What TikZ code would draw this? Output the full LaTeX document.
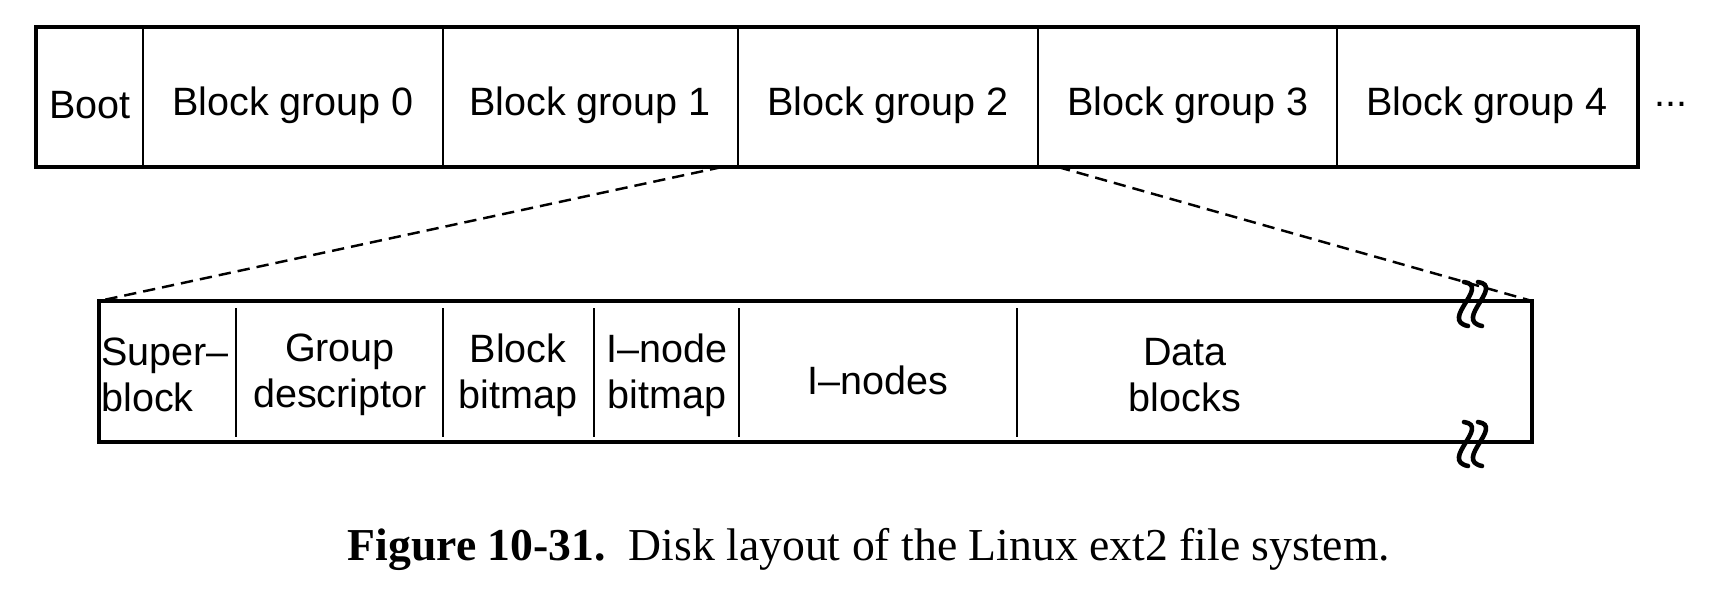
\documentclass[tikz,border=0pt]{standalone}
\usepackage{fontspec}
\setmainfont{Liberation Serif}
\setsansfont{Liberation Sans}
\begin{document}
\begin{tikzpicture}[x=0.02cm, y=-0.02cm,
	box/.style={line width=2pt},
	sep/.style={line width=1.4pt},
	zoomline/.style={line width=1.4pt, dash pattern=on 7pt off 4pt},
	lbl/.style={font=\sffamily\fontsize{22.5}{26}\selectfont, inner sep=0pt, align=center},
	brk/.style={line width=2.6pt, line cap=round}]
		\useasboundingbox (0,0) rectangle (1724,596);
		% whole disk
		\draw [box] (36,27) rectangle (1638,167);
		\foreach \x in {143,443,738,1038,1337}
			\draw [sep] (\x,27) -- (\x,167);
		\node [lbl] (boot) at (90,105) {Boot};
		\node [lbl] (bg0) at (293,105) {Block group 0};
		\node [lbl] (bg1) at (590,105) {Block group 1};
		\node [lbl] (bg2) at (888,105) {Block group 2};
		\node [lbl] (bg3) at (1188,105) {Block group 3};
		\node [lbl] (bg4) at (1487,105) {Block group 4};
		\node [lbl] (more) at (1671,104) {...};
		
		% one block group
		\draw [box] (99,301) rectangle (1532,442);
		\foreach \x in {236,443,594,739,1017}
			\draw [sep] (\x,308) -- (\x,437);
		\node [lbl, align=left, anchor=west] (super) at (101,375) {Super–\\block};
		\node [lbl] (gdesc) at (340,375) {Group\\descriptor};
		\node [lbl] (bbmap) at (518,375) {Block\\bitmap};
		\node [lbl] (ibmap) at (667,375) {I–node\\bitmap};
		\node [lbl] (inodes) at (878,380) {I–nodes};
		\node [lbl] (data) at (1185,375) {Data\\blocks};
		
		% break marks
		\foreach \y in {304,444}
			\foreach \bx in {1465,1479}
				\draw [brk] (\bx-1,\y-22) .. controls (\bx+26,\y-18) and (\bx-26,\y+16) .. (\bx+3,\y+22);
		
		% zoom lines
		\coordinate (cutL) at (722,167);
		\coordinate (cutR) at (1058,167);
		\coordinate (lowL) at (99,301);
		\coordinate (lowR) at (1532,301);
		\draw [zoomline] (cutL) -- (lowL);
		\draw [zoomline] (cutR) -- (lowR);
		
		\node [font=\fontsize{26}{30}\selectfont, inner sep=0pt] (caption) at (869,549)
			{\textbf{Figure 10-31.}\enspace Disk layout of the Linux ext2 file system.};
\end{tikzpicture}
\end{document}
